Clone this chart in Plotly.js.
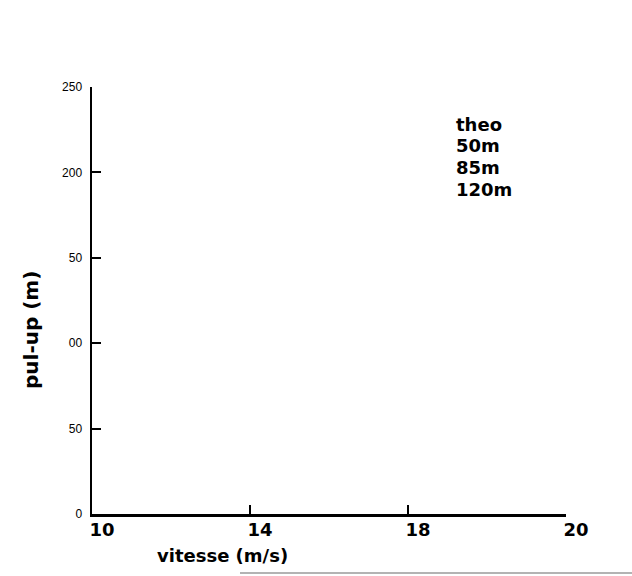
<!DOCTYPE html>
<html>
<head>
<meta charset="utf-8">
<script src="https://cdn.plot.ly/plotly-3.0.1.min.js"></script>
<style>
  html, body { margin: 0; padding: 0; background: #fff; }
  #chart { width: 632px; height: 576px; }
</style>
</head>
<body>
<div id="chart"></div>
<script>
// Series listed in the key (no measured points plotted yet)
const seriesNames = ["theo", "50m", "85m", "120m"];
const seriesX = [[], [], [], []];
const seriesY = [[], [], [], []];

// Axis ticks
const xTickLabels = ["10", "14", "18", "20"];
const yTickVals = [0, 50, 100, 150, 200, 250];
const yTickText = ["0", "50", "00", "50", "200", "250"];

const FONT = "Liberation Sans, Arial, sans-serif";
const HEAVY = "DejaVu Sans, Liberation Sans, sans-serif";

const W = 632, H = 576;
const M = { l: 92, r: 66, t: 87, b: 62 };
const plotW = W - M.l - M.r;
const plotH = H - M.t - M.b;
const px = x => (x - M.l) / plotW;          // page x -> paper x
const py = y => (H - M.b - y) / plotH;      // page y -> paper y

const traces = seriesNames.map((name, i) => ({
  type: "scatter",
  mode: "lines",
  name: name,
  x: seriesX[i],
  y: seriesY[i],
  line: { color: "#000", width: 2 },
  showlegend: false,
  hoverinfo: "skip"
}));

// Key entries, one text line per series, stacked from the top
const keyStep = 21.7 / plotH;
const keyLabels = seriesNames.map((name, i) => ({
  text: name,
  xref: "paper", yref: "paper",
  x: px(454), y: py(124) - i * keyStep,
  xanchor: "left", yanchor: "middle",
  showarrow: false,
  font: { family: HEAVY, size: 18, weight: "bold", color: "#000" }
}));

const layout = {
  width: W,
  height: H,
  margin: { l: M.l, r: M.r, t: M.t, b: M.b, pad: 0 },
  paper_bgcolor: "#ffffff",
  plot_bgcolor: "#ffffff",
  font: { family: FONT, color: "#000" },
  showlegend: false,
  xaxis: {
    range: [0, xTickLabels.length - 1],
    tickmode: "array",
    tickvals: xTickLabels.map((_, i) => i),
    ticktext: xTickLabels,
    ticks: "inside",
    ticklen: 9,
    tickwidth: 2,
    tickcolor: "#000",
    showline: true,
    linecolor: "#000",
    linewidth: 2.5,
    showgrid: false,
    zeroline: false,
    ticklabelshift: 10,
    ticklabelstandoff: -2,
    tickfont: { family: HEAVY, size: 18, weight: "bold", color: "#000" },
    fixedrange: true
  },
  yaxis: {
    range: [0, 250],
    tickmode: "array",
    tickvals: yTickVals,
    ticktext: yTickText,
    ticks: "inside",
    ticklen: 9,
    tickwidth: 2,
    tickcolor: "#000",
    showline: true,
    linecolor: "#000",
    linewidth: 2.5,
    showgrid: false,
    zeroline: false,
    ticklabelstandoff: 5,
    tickfont: { family: FONT, size: 12, color: "#000" },
    fixedrange: true
  },
  annotations: [
    {
      text: "vitesse (m/s)",
      xref: "paper", yref: "paper",
      x: px(222), y: py(555),
      xanchor: "center", yanchor: "middle",
      showarrow: false,
      font: { family: HEAVY, size: 18, weight: "bold", color: "#000" }
    },
    {
      text: "pul-up (m)",
      xref: "paper", yref: "paper",
      x: px(31), y: py(330),
      xanchor: "center", yanchor: "middle",
      textangle: -90,
      showarrow: false,
      font: { family: HEAVY, size: 20, weight: "bold", color: "#000" }
    }
  ].concat(keyLabels),
  shapes: [
    {
      type: "line", xref: "paper", yref: "paper",
      x0: px(240), x1: px(632),
      y0: py(573), y1: py(573),
      line: { color: "#9a9a9a", width: 1.5 }
    }
  ]
};

Plotly.newPlot("chart", traces, layout, { displayModeBar: false, staticPlot: true });
</script>
</body>
</html>
